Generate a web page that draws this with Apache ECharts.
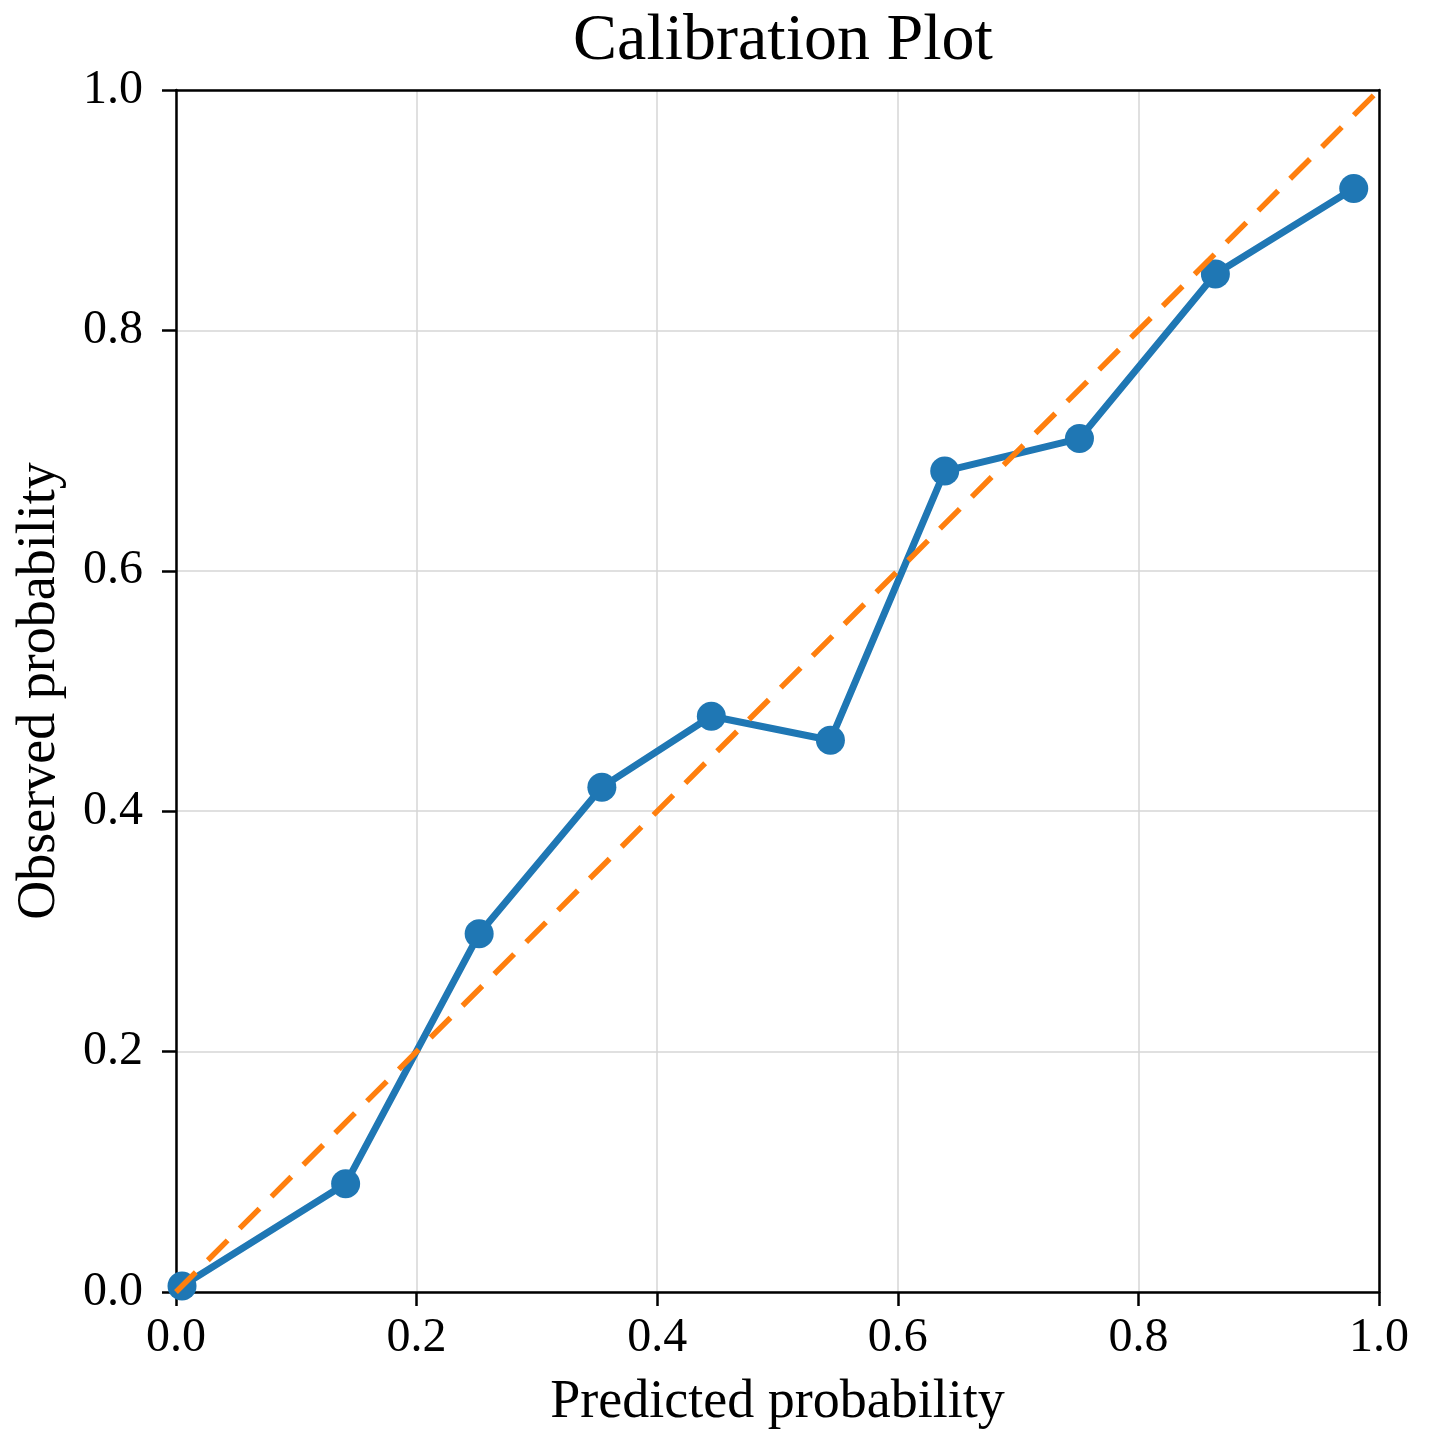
<!DOCTYPE html>
<html><head><meta charset="utf-8">
<script src="https://cdn.jsdelivr.net/npm/echarts@6/dist/echarts.min.js"></script>
<style>html,body{margin:0;padding:0;background:#fff}#c{width:1432px;height:1450px}</style>
</head><body><div id="c"></div>
<script>
const predicted = [0.005, 0.141, 0.252, 0.354, 0.445, 0.544, 0.639, 0.751, 0.864, 0.979];
const observed  = [0.005, 0.090, 0.298, 0.420, 0.479, 0.459, 0.683, 0.710, 0.847, 0.918];
const diagX = [0, 1];
const diagY = [0, 1];

const font = 'Liberation Serif, Times New Roman, serif';
const chart = echarts.init(document.getElementById('c'));
const axisCommon = {
  type: 'value', min: 0, max: 1, interval: 0.2,
  axisLine: {show: true, onZero: false, lineStyle: {color: '#000', width: 2.5}},
  axisTick: {show: true, inside: false, length: 14, lineStyle: {color: '#000', width: 2.5}},
  axisLabel: {color: '#000', fontFamily: font, fontSize: 48, formatter: v => v.toFixed(1)},
  splitLine: {show: true, lineStyle: {color: '#d6d6d6', width: 1.5}},
  nameLocation: 'middle',
  nameTextStyle: {color: '#000', fontFamily: font, fontSize: 54}
};
const borderAxis = {
  type: 'value', min: 0, max: 1, interval: 0.2,
  axisLine: {show: true, onZero: false, lineStyle: {color: '#000', width: 2.5}},
  axisTick: {show: false}, axisLabel: {show: false}, splitLine: {show: false}
};
chart.setOption({
  animation: false,
  backgroundColor: '#fff',
  title: {text: 'Calibration Plot', left: 778, top: 4, textAlign: 'center',
    textStyle: {fontFamily: font, fontSize: 66, fontWeight: 'normal', color: '#000'}},
  grid: {left: 176, right: 53, top: 90, bottom: 158, containLabel: false},
  xAxis: [
    Object.assign({}, axisCommon, {name: 'Predicted probability', nameGap: 84, position: 'bottom',
      axisLabel: Object.assign({}, axisCommon.axisLabel, {margin: 22})}),
    Object.assign({}, borderAxis, {position: 'top'})
  ],
  yAxis: [
    Object.assign({}, axisCommon, {name: 'Observed probability', nameGap: 109, position: 'left',
      axisLabel: Object.assign({}, axisCommon.axisLabel, {margin: 33})}),
    Object.assign({}, borderAxis, {position: 'right'})
  ],
  series: [
    {type: 'line', data: diagX.map((x, i) => [x, diagY[i]]), symbol: 'none',
     lineStyle: {color: '#ff7f0e', width: 5.5, type: [28, 17]}, z: 3},
    {type: 'line', data: predicted.map((x, i) => [x, observed[i]]), symbol: 'circle', symbolSize: 29,
     itemStyle: {color: '#1f77b4'}, lineStyle: {color: '#1f77b4', width: 7}, z: 2}
  ]
});
</script></body></html>
